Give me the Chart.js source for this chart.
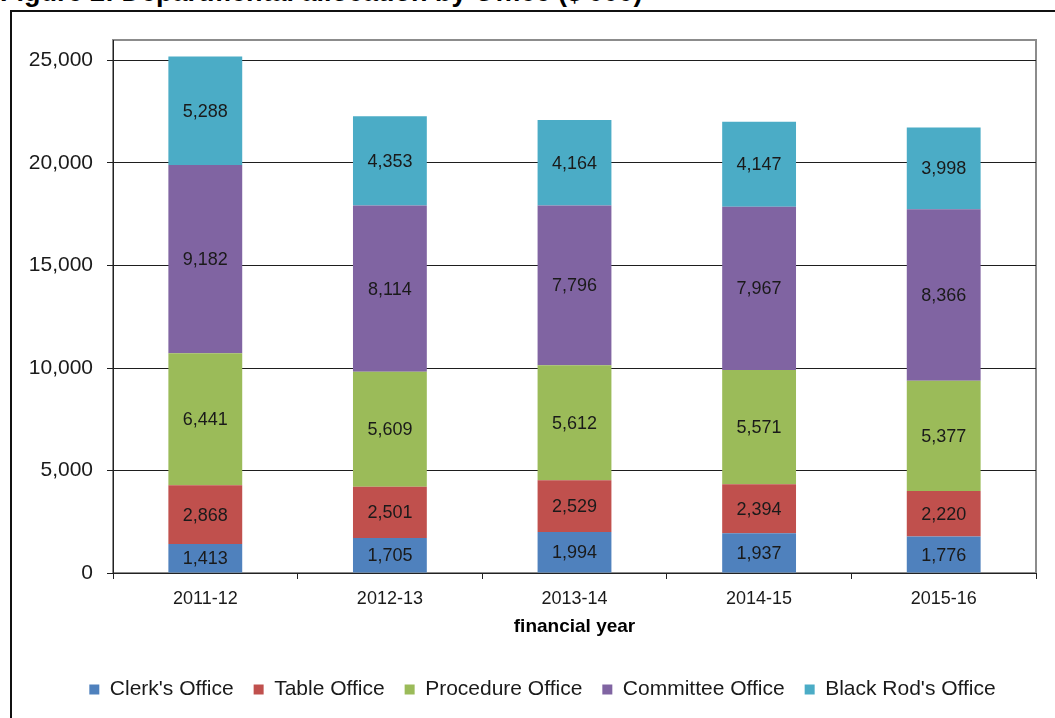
<!DOCTYPE html>
<html>
<head>
<meta charset="utf-8">
<script src="https://cdn.jsdelivr.net/npm/chart.js@4/dist/chart.umd.min.js"></script>
<style>
  html, body { margin: 0; padding: 0; background: #fff; overflow: hidden; }
  body { width: 1055px; height: 718px; position: relative; }
  #caption {
    position: absolute; left: 0; top: -18px; white-space: nowrap;
    font: bold 27px "Liberation Sans", Arial, sans-serif; line-height: 20px; color: #000;
  }
  #frame {
    position: absolute; left: 10px; top: 10px; width: 2000px; height: 2000px;
    border-left: 2px solid #111; border-top: 2px solid #111;
  }
  #chart { position: absolute; left: 0; top: 0; }
</style>
</head>
<body>
<div id="caption">Figure 2: Departmental allocation by Office ($'000)</div>
<div id="frame"></div>
<canvas id="chart" width="1055" height="718"></canvas>
<script>
// chart data ($'000)
var years = ['2011-12', '2012-13', '2013-14', '2014-15', '2015-16'];
var clerks = [1413, 1705, 1994, 1937, 1776];
var table = [2868, 2501, 2529, 2394, 2220];
var procedure = [6441, 5609, 5612, 5571, 5377];
var committee = [9182, 8114, 7796, 7967, 8366];
var blackRod = [5288, 4353, 4164, 4147, 3998];
var yTicks = [0, 5000, 10000, 15000, 20000, 25000];

var fontFamily = '"Liberation Sans", Arial, sans-serif';

// grey box round the plot area
var plotBorder = {
    id: 'plotBorder',
    beforeDraw: function (chart) {
        var a = chart.chartArea;
        var ctx = chart.ctx;
        ctx.save();
        ctx.strokeStyle = '#8c8c8c';
        ctx.lineWidth = 2;
        ctx.strokeRect(a.left, a.top, a.right - a.left, a.bottom - a.top);
        ctx.restore();
    }
};

// the legend in the original sits a little right of the canvas centre
var legendShift = {
    id: 'legendShift',
    afterLayout: function (chart) {
        if (chart.legend) chart.legend.left += 49;
    }
};

// value in the middle of each segment
var segmentLabels = {
    id: 'segmentLabels',
    afterDatasetsDraw: function (chart) {
        var ctx = chart.ctx;
        ctx.save();
        ctx.font = '18px ' + fontFamily;
        ctx.fillStyle = '#1a1a1a';
        ctx.textAlign = 'center';
        ctx.textBaseline = 'middle';
        chart.data.datasets.forEach(function (ds, i) {
            var meta = chart.getDatasetMeta(i);
            meta.data.forEach(function (bar, j) {
                var y = (bar.y + bar.base) / 2;
                ctx.fillText(ds.data[j].toLocaleString('en-US'), bar.x, y + 1);
            });
        });
        ctx.restore();
    }
};

var ctx = document.getElementById('chart').getContext('2d');
var myChart = new Chart(ctx, {
    type: 'bar',
    data: {
        labels: years,
        datasets: [
            { label: "Clerk's Office", data: clerks, backgroundColor: '#4F81BD' },
            { label: 'Table Office', data: table, backgroundColor: '#C0504D' },
            { label: 'Procedure Office', data: procedure, backgroundColor: '#9BBB59' },
            { label: 'Committee Office', data: committee, backgroundColor: '#8064A2' },
            { label: "Black Rod's Office", data: blackRod, backgroundColor: '#4BACC6' }
        ]
    },
    options: {
        responsive: false,
        animation: false,
        layout: { padding: { left: 0, right: 19, top: 40, bottom: 8 } },
        datasets: { bar: { categoryPercentage: 1, barPercentage: 0.4 } },
        plugins: {
            legend: {
                position: 'bottom',
                labels: {
                    boxWidth: 10,
                    boxHeight: 10,
                    padding: 20,
                    color: '#1a1a1a',
                    font: { family: fontFamily, size: 21 }
                }
            },
            tooltip: { enabled: false }
        },
        scales: {
            x: {
                stacked: true,
                afterFit: function (scale) { scale.height = 86; },
                grid: { drawOnChartArea: false, drawTicks: true, tickLength: 6, color: '#222', offset: true },
                border: { color: '#222', width: 1 },
                ticks: { color: '#1a1a1a', padding: 9, font: { family: fontFamily, size: 18 } },
                title: {
                    display: true,
                    text: 'financial year',
                    color: '#000',
                    font: { family: fontFamily, size: 19, weight: 'bold' },
                    padding: { top: 4, bottom: 21 }
                }
            },
            y: {
                stacked: true,
                min: 0,
                max: 26000,
                afterFit: function (scale) { scale.width = 113; },
                afterBuildTicks: function (scale) {
                    scale.ticks = yTicks.map(function (v) { return { value: v }; });
                },
                grid: { color: '#1e1e1e', tickLength: 6, lineWidth: 1 },
                border: { color: '#222', width: 1 },
                ticks: {
                    padding: 14,
                    color: '#1a1a1a',
                    font: { family: fontFamily, size: 21 },
                    callback: function (v) { return v.toLocaleString('en-US'); }
                }
            }
        }
    },
    plugins: [plotBorder, legendShift, segmentLabels]
});
</script>
</body>
</html>
